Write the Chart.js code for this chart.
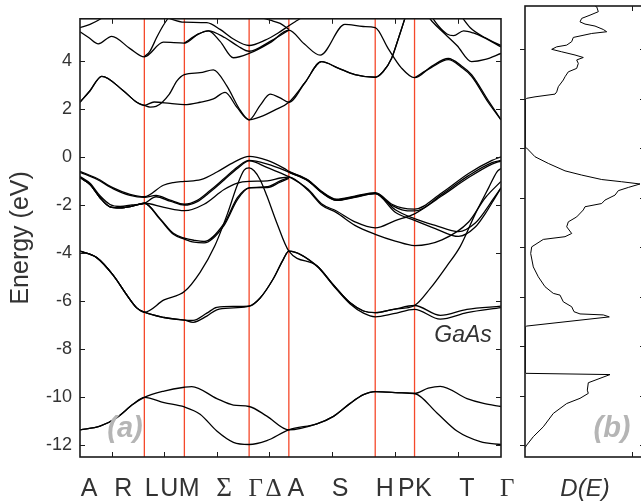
<!DOCTYPE html>
<html>
<head>
<meta charset="utf-8">
<script src="https://cdn.jsdelivr.net/npm/chart.js@4.4.1/dist/chart.umd.min.js"></script>
<style>
html, body { margin: 0; padding: 0; background: #fff; overflow: hidden; width: 641px; height: 504px; }
#bands { position: absolute; left: 0; top: 0; }
#dos { position: absolute; left: 515px; top: 0; }
</style>
</head>
<body>
<canvas id="bands" width="525" height="504"></canvas>
<canvas id="dos" width="140" height="504"></canvas>
<script>
// path coordinate of the high-symmetry points A L M Γ A H K Γ
const symK = [0, 64.3, 104.3, 169, 208.7, 295, 334.3, 420.7];
const xLabels = ["A", "R", "L", "U", "M", "Σ", "Γ", "Δ", "A", "S", "H", "P", "K", "T", "Γ"];
const xLabelPos = [9, 43.3, 71.7, 89.3, 109, 144, 175.7, 193.3, 215.7, 260, 304.5, 326, 343, 386.7, 427];
const xTickMarks = [32.3, 84.3, 136.7, 189, 251.7, 314.3, 377.3];
const yTicks = [-12, -10, -8, -6, -4, -2, 0, 2, 4];

// bands: [k, E(eV)]
const sBandLow = [[0,-11.35],[20,-11.2],[36.7,-10.85],[53.3,-10.28],[64.3,-10.0],[84,-10.22],[104.3,-10.4],[120,-10.7],[136.7,-11.4],[153.3,-11.87],[169,-11.96],[186.7,-11.8],[208.7,-11.35],[236.7,-11.1],[253.3,-10.79],[270,-10.25],[283.3,-9.89],[295,-9.76],[315,-9.8],[334.3,-9.84],[356.7,-10.65],[376.7,-11.4],[400,-11.84],[420.7,-11.96]];
const sBandHigh = [[0,-11.35],[20,-11.2],[36.7,-10.85],[53.3,-10.28],[64.3,-10.0],[84,-9.74],[104.3,-9.58],[111.7,-9.55],[136.7,-10.05],[153.3,-10.32],[169,-10.38],[186.7,-10.78],[208.7,-11.35],[236.7,-11.1],[253.3,-10.79],[270,-10.25],[283.3,-9.89],[295,-9.76],[315,-9.8],[334.3,-9.84],[348,-9.62],[360,-9.54],[386.7,-10.05],[403.3,-10.25],[420.7,-10.38]];

const dBandLow = [[0,-3.92],[16.7,-4.19],[33.3,-4.93],[46.7,-5.74],[56.7,-6.28],[64.3,-6.46],[84,-6.68],[104.3,-6.79],[113,-6.88],[126.7,-6.62],[136.7,-6.36],[153.3,-6.28],[169,-6.21],[180,-5.87],[193.3,-5.06],[203.3,-4.25],[208.7,-3.92],[236.7,-4.55],[253.3,-5.36],[270,-6.12],[283.3,-6.5],[295,-6.65],[313.3,-6.52],[334.3,-6.34],[360,-6.75],[386.7,-6.48],[420.7,-6.27]];
const dBandHigh = [[0,-3.92],[16.7,-4.19],[33.3,-4.93],[46.7,-5.74],[56.7,-6.28],[64.3,-6.46],[84,-6.68],[104.3,-6.79],[113,-6.8],[126.7,-6.5],[136.7,-6.26],[153.3,-6.22],[169,-6.21],[180,-5.87],[193.3,-5.06],[203.3,-4.25],[208.7,-3.92],[236.7,-4.53],[253.3,-5.33],[270,-6.07],[283.3,-6.41],[295,-6.48],[313.3,-6.34],[334.3,-6.18],[360,-6.59],[386.7,-6.34],[420.7,-6.21]];
const steepBand = [[0,-3.92],[16.7,-4.19],[33.3,-4.93],[46.7,-5.74],[56.7,-6.28],[64.3,-6.46],[84,-5.95],[104.3,-5.6],[120,-4.8],[134.5,-3.72],[147.3,-2.37],[157.3,-1.16],[164,-0.55],[169,-0.46],[174,-0.58],[180,-0.95],[186.7,-1.62],[196.7,-2.75],[208.7,-3.92],[236.7,-4.53],[253.3,-5.33],[270,-6.07],[283.3,-6.41],[295,-6.48],[313.3,-6.34],[334.3,-6.18],[350,-5.47],[366.7,-4.53],[380,-3.72],[395,-2.37],[408.3,-1.29],[416.7,-0.62],[420.7,-0.48]];

const vb1 = [[0,-0.6],[16.7,-0.89],[33.3,-1.29],[50,-1.56],[64.3,-1.66],[83.3,-1.18],[93.3,-1.07],[104.3,-1.02],[120.7,-0.95],[137.3,-0.62],[154,-0.22],[169,0.02],[187.3,-0.15],[204,-0.48],[208.7,-0.6],[228,-0.96],[241.3,-1.43],[256.3,-1.76],[274.7,-1.63],[295,-1.49],[311.7,-1.97],[321.7,-2.12],[334.3,-2.17],[361.7,-1.49],[388.3,-0.69],[411.7,-0.15],[420.7,0.0]];
const vb2 = [[0,-0.64],[16.7,-0.93],[33.3,-1.33],[50,-1.6],[64.3,-1.68],[76,-1.6],[90,-1.8],[104.3,-1.97],[116.7,-1.82],[130,-1.4],[144,-0.9],[157.3,-0.42],[169,-0.15],[187.3,-0.3],[204,-0.55],[208.7,-0.64],[228,-1.0],[241.3,-1.48],[256.3,-1.81],[274.7,-1.68],[295,-1.53],[311.7,-2.02],[321.7,-2.2],[334.3,-2.25],[361.7,-1.56],[388.3,-0.78],[411.7,-0.24],[420.7,-0.15]];
const vb3 = [[0,-0.82],[10,-1.1],[20,-1.62],[30,-1.98],[40,-2.06],[52,-2.0],[64.3,-1.93],[76,-1.66],[90,-1.84],[104.3,-2.01],[116.7,-1.87],[130,-1.46],[144,-0.96],[157.3,-0.48],[169,-0.17],[187.3,-0.45],[204,-0.74],[208.7,-0.82],[228,-1.35],[241.3,-1.95],[256.3,-2.25],[274.7,-2.7],[295,-2.95],[315,-2.65],[334.3,-2.37],[361.7,-1.62],[388.3,-0.86],[411.7,-0.3],[420.7,-0.17]];
const vb4 = [[0,-0.86],[10,-1.15],[20,-1.7],[30,-2.08],[40,-2.12],[52,-2.05],[64.3,-1.93],[84,-2.1],[104.3,-2.24],[124,-1.97],[144,-1.36],[157.3,-1.09],[169,-1.02],[187.3,-1.0],[200,-0.88],[208.7,-0.84],[228,-1.4],[241.3,-2.0],[256.3,-2.32],[274.7,-2.85],[295,-3.22],[315,-3.5],[334.3,-3.69],[361.7,-3.45],[388.3,-2.71],[405,-1.7],[420.7,-1.02]];
const vb5 = [[0,-0.86],[10,-1.15],[20,-1.7],[30,-2.08],[40,-2.12],[52,-2.05],[64.3,-1.93],[80,-2.57],[93.3,-3.18],[104.3,-3.38],[114,-3.47],[124,-3.52],[144,-2.77],[157.3,-1.7],[169,-1.29],[187.3,-1.24],[200,-1.0],[208.7,-0.86]];
const vb6 = [[0,-0.86],[10,-1.15],[20,-1.7],[30,-2.08],[40,-2.12],[52,-2.05],[64.3,-1.93],[80,-2.6],[93.3,-3.22],[104.3,-3.42],[114,-3.55],[124,-3.58],[144,-2.85],[157.3,-1.78],[169,-1.29],[187.3,-1.28],[200,-1.05],[208.7,-0.9]];
const vb5b = [[208.7,-0.62],[228,-0.98],[241.3,-1.45],[256.3,-1.78],[274.7,-1.65],[295,-1.51],[315,-2.2],[334.3,-2.57],[355,-2.85],[378.3,-3.11],[395,-2.75],[405,-2.24],[413,-1.75],[420.7,-1.29]];
const vb6b = [[208.7,-0.64],[228,-1.0],[241.3,-1.47],[256.3,-1.8],[274.7,-1.67],[295,-1.53],[315,-2.3],[334.3,-2.64],[355,-2.98],[378.3,-3.31],[395,-2.92],[405,-2.36],[413,-1.82],[420.7,-1.29]];

const cb1 = [[0,2.27],[10,2.75],[21.7,3.35],[43.3,2.75],[56.7,2.27],[64.3,2.14],[74,2.28],[90,2.22],[104.3,2.17],[120,2.27],[133.3,2.41],[145,2.68],[156.7,2.07],[169,1.54],[180,1.66],[195,1.95],[208.7,2.27],[224.7,3.08],[241.3,3.96],[258,3.69],[274.7,3.42],[295,3.31],[303,3.55],[311.3,4.09],[318,4.9],[326.3,5.98],[332,6.8]];
const cb2 = [[0,2.27],[10,2.75],[21.7,3.35],[43.3,2.75],[56.7,2.27],[64.3,2.14],[70,2.07],[76,2.1],[89.3,2.61],[96.7,3.15],[104.3,3.42],[120,3.5],[133.3,3.62],[146.7,2.95],[160,1.94],[169,1.54],[180,2.14],[190,2.61],[200,2.45],[208.7,2.27],[224.7,3.08],[241.3,3.96],[258,3.69],[274.7,3.42],[295,3.31],[303,3.55],[311.3,4.09],[318,4.9],[326.3,5.98],[332,6.8]];
const cb3 = [[0,5.2],[9,4.95],[18.3,4.7],[31.7,5.01],[50,4.5],[64.3,4.16],[83.3,4.77],[104.3,4.73],[118,5.1],[128.3,5.24],[140,4.8],[153.3,4.12],[169,4.3],[190,4.75],[208.7,5.27],[224,4.7],[240,4.23],[264.7,5.51],[283,5.42],[295,5.37],[308,4.5],[321.3,3.69],[334.3,3.29],[351.3,3.76],[368,4.09],[381.3,3.78],[391.3,3.42],[408,2.34],[420.7,1.54]];
const cb4a = [[104.3,4.73],[118,5.1],[128.3,5.24],[145,4.95],[158,4.6],[169,4.39],[190,4.8],[208.7,5.27]];
const cb4b = [[334.3,3.29],[351.3,3.72],[368,4.04],[381.3,3.72],[391.3,3.35],[408,2.26],[420.7,1.54]];
const cbTop1 = [[0,5.37],[10,5.51],[20,5.72],[26,5.9]];
const cbTop2 = [[64.3,4.16],[70,4.4],[76.7,4.97],[83,5.45],[88.3,5.78],[92,6.0]];
const cbTop3 = [[86,5.8],[104.3,5.6],[126.7,5.58],[140,5.3],[153.3,4.9],[169,4.63],[185,4.85],[198,5.15],[208.7,5.45],[215,5.62],[221.3,5.78],[226,5.95]];
const cbTop4 = [[175,5.85],[190,5.68],[200,5.55],[208.7,5.3]];
const cbTop5 = [[349,5.98],[358,5.45],[366.7,5.11],[373.3,5.04],[383.3,5.24],[393,5.15],[403.3,4.97],[420.7,4.57]];
const cbTop6 = [[380,5.9],[390,5.37],[405,4.95],[420.7,4.63]];
const cbTop7 = [[345,6.0],[351.7,5.64],[365,5.1],[376.7,4.63],[391.3,3.96],[405,4.05],[420.7,4.3]];

const bandCurves = [sBandLow, sBandHigh, dBandLow, dBandHigh, steepBand,
  vb1, vb2, vb3, vb4, vb5, vb6, vb5b, vb6b,
  cb1, cb2, cb3, cb4a, cb4b, cbTop1, cbTop2, cbTop3, cbTop4, cbTop5, cbTop6, cbTop7];

// density of states: [E(eV), D]
const dosCurve = [[5.74,70],[5.71,71.7],[5.51,73.3],[5.37,65],[5.24,56.7],[5.10,55],[5.01,60],[4.93,70],[4.79,78.3],[4.70,81.7],[4.63,66.7],[4.47,48.3],[4.30,46.7],[4.16,41.7],[4.09,31.7],[3.99,26.7],[3.89,36.7],[3.76,50],[3.66,58.3],[3.56,51.7],[3.42,53.3],[3.22,51.7],[3.08,43.3],[2.88,40],[2.75,38.3],[2.48,33.3],[2.27,31.7],[2.18,30],[2.07,10],[2.01,1.7],[1.94,0],[0.02,0],[0.0,1.7],[-0.35,10],[-0.62,23.3],[-0.92,40],[-1.09,56.7],[-1.27,76.7],[-1.36,96.7],[-1.45,115],[-1.59,103.3],[-1.72,93.3],[-1.9,90],[-2.1,80],[-2.24,76.7],[-2.37,60],[-2.5,58.3],[-2.78,51.7],[-2.98,43.3],[-3.18,41.7],[-3.45,46.7],[-3.58,40],[-3.69,18.3],[-3.99,6.7],[-4.26,5.7],[-4.8,8.3],[-5.2,13.3],[-5.6,20],[-5.87,28.3],[-5.94,35],[-6.21,38.3],[-6.41,46.7],[-6.61,49],[-6.7,55],[-6.74,78.3],[-6.82,84.3],[-7.19,1.7],[-7.24,0],[-9.05,0],[-9.1,1],[-9.15,85],[-9.48,63.3],[-9.78,62.3],[-9.91,63.3],[-10.11,55],[-10.32,41.7],[-10.72,28.3],[-11.26,18.3],[-11.66,8.3],[-12.0,1.7],[-12.1,0]];
const dosTickMarks = [107];

const eMin = -12.48, eMax = 5.74;
const sans = "'Liberation Sans', Arial, sans-serif";
const serif = "'Liberation Serif', 'Times New Roman', serif";

function drawYTicks(ctx, y, a, left, right) {
    yTicks.forEach(v => {
        const py = Math.round(y.getPixelForValue(v)) + 0.5;
        if (left) { ctx.moveTo(a.left + left[0], py); ctx.lineTo(a.left + left[1], py); }
        if (right) { ctx.moveTo(a.right - right[0], py); ctx.lineTo(a.right - right[1], py); }
    });
}

const bandDecor = {
    id: "bandDecor",
    beforeDatasetsDraw(chart) {
        const {ctx, chartArea: a, scales: {x}} = chart;
        ctx.save();
        ctx.strokeStyle = "rgb(245,72,42)";
        ctx.lineWidth = 1.3;
        symK.slice(1, -1).forEach(k => {
            const px = x.getPixelForValue(k);
            ctx.beginPath();
            ctx.moveTo(px, a.top);
            ctx.lineTo(px, a.bottom);
            ctx.stroke();
        });
        ctx.restore();
    },
    afterDatasetsDraw(chart) {
        const {ctx, chartArea: a, scales: {x, y}} = chart;
        ctx.save();
        ctx.strokeStyle = "#1a1a1a";
        ctx.lineWidth = 1.6;
        ctx.strokeRect(a.left, a.top, a.right - a.left, a.bottom - a.top);
        ctx.lineWidth = 1;
        ctx.beginPath();
        drawYTicks(ctx, y, a, [0, 5], [0, 5]);
        xTickMarks.forEach(k => {
            const px = Math.round(x.getPixelForValue(k)) + 0.5;
            ctx.moveTo(px, a.top); ctx.lineTo(px, a.top + 5);
            ctx.moveTo(px, a.bottom); ctx.lineTo(px, a.bottom - 5);
        });
        ctx.stroke();

        ctx.fillStyle = "#333";
        ctx.textAlign = "center";
        ctx.textBaseline = "alphabetic";
        xLabels.forEach((lab, i) => {
            const greek = /[ΣΓΔ]/.test(lab);
            ctx.font = lab === "Σ" ? "27px " + serif : greek ? "25px " + serif : "25px " + sans;
            ctx.fillText(lab, x.getPixelForValue(xLabelPos[i]), 496);
        });

        ctx.font = "italic 23px " + sans;
        ctx.fillText("GaAs", 463, 342);

        ctx.fillStyle = "#b5b5b5";
        ctx.font = "italic bold 29px " + sans;
        ctx.fillText("(a)", 125, 437);
        ctx.restore();
    }
};

new Chart(document.getElementById("bands"), {
    type: "line",
    data: {
        datasets: bandCurves.map(b => ({
            data: b.map(p => ({x: p[0], y: p[1]})),
            borderColor: "#000",
            borderWidth: 1.3,
            pointRadius: 0,
            cubicInterpolationMode: "monotone",
            fill: false,
        })),
    },
    options: {
        responsive: false,
        animation: false,
        events: [],
        layout: {padding: {top: 6, right: 24, bottom: 47, left: 0}},
        plugins: {legend: {display: false}, tooltip: {enabled: false}},
        scales: {
            x: {type: "linear", display: false, min: symK[0], max: symK[symK.length - 1]},
            y: {
                type: "linear", min: eMin, max: eMax,
                afterFit: s => { s.width = 80; },
                afterBuildTicks: s => { s.ticks = yTicks.map(v => ({value: v})); },
                ticks: {padding: 8, color: "#333", font: {family: sans, size: 18}},
                grid: {display: false, drawTicks: false},
                border: {display: false},
                title: {display: true, text: "Energy (eV)", color: "#333", font: {family: sans, size: 25}, padding: {top: 6, bottom: 0}},
            },
        },
    },
    plugins: [bandDecor],
});

const dosDecor = {
    id: "dosDecor",
    afterDatasetsDraw(chart) {
        const {ctx, chartArea: a, scales: {x, y}} = chart;
        ctx.save();
        ctx.strokeStyle = "#1a1a1a";
        ctx.lineWidth = 1.6;
        ctx.strokeRect(a.left, a.top, a.right - a.left, a.bottom - a.top);
        ctx.lineWidth = 1;
        ctx.beginPath();
        drawYTicks(ctx, y, a, [-5, 0], [0, 5]);
        dosTickMarks.forEach(d => {
            const px = Math.round(x.getPixelForValue(d)) + 0.5;
            ctx.moveTo(px, a.top); ctx.lineTo(px, a.top + 5);
            ctx.moveTo(px, a.bottom); ctx.lineTo(px, a.bottom - 5);
        });
        ctx.stroke();

        ctx.textAlign = "center";
        ctx.fillStyle = "#333";
        ctx.font = "italic 24px " + sans;
        ctx.fillText("D(E)", 70, 496);
        ctx.fillStyle = "#b5b5b5";
        ctx.font = "italic bold 29px " + sans;
        ctx.fillText("(b)", 97, 437);
        ctx.restore();
    }
};

new Chart(document.getElementById("dos"), {
    type: "line",
    data: {
        datasets: [{
            data: dosCurve.map(p => ({x: p[1], y: p[0]})),
            borderColor: "#000",
            borderWidth: 1,
            pointRadius: 0,
            tension: 0,
            fill: false,
        }],
    },
    options: {
        responsive: false,
        animation: false,
        events: [],
        indexAxis: "y",
        layout: {padding: {top: 6, right: 10, bottom: 47, left: 10}},
        plugins: {legend: {display: false}, tooltip: {enabled: false}},
        scales: {
            x: {type: "linear", display: false, min: 0, max: 120},
            y: {type: "linear", display: false, min: eMin, max: eMax},
        },
    },
    plugins: [dosDecor],
});
</script>
</body>
</html>
